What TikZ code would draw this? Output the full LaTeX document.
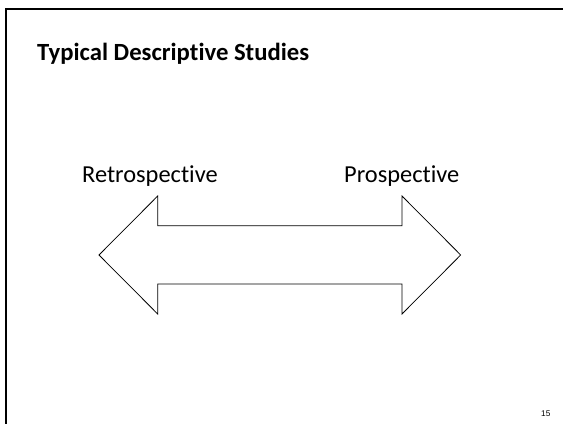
\documentclass[tikz,border=0pt]{standalone}
\usepackage{fontspec}
\setmainfont[Ligatures=NoCommon]{Carlito}
\newfontfamily\numfont{Liberation Sans}
\begin{document}
\begin{tikzpicture}[x=1pt,y=1pt,
  frameline/.style={line width=2pt,black},
  arrowshape/.style={draw=black,line width=0.75pt,line join=miter},
  titletext/.style={anchor=base west,inner sep=0pt,font=\fontsize{24.7}{29}\selectfont\bfseries},
  labeltext/.style={anchor=base west,inner sep=0pt,font=\fontsize{24.4}{29}\selectfont},
  numtext/.style={anchor=base west,inner sep=0pt,font=\numfont\fontsize{8.3}{10}\selectfont}]
\useasboundingbox (0,0) rectangle (563,424);
\draw[frameline] (563,415) -- (6,415) -- (6,0);
\node[titletext] (title) at (37,363) {Typical Descriptive Studies};
\node[labeltext] (retro) at (82,241) {Retrospective};
\node[labeltext] (pro) at (344,241) {Prospective};
\draw[arrowshape] (99,169) -- (157.7,228) -- (157.7,198.3) -- (402,198.3) -- (402,228)
  -- (460.7,169) -- (402,110) -- (402,140) -- (157.7,140) -- (157.7,110) -- cycle;
\node[numtext] (page) at (541,8) {15};
\end{tikzpicture}
\end{document}
